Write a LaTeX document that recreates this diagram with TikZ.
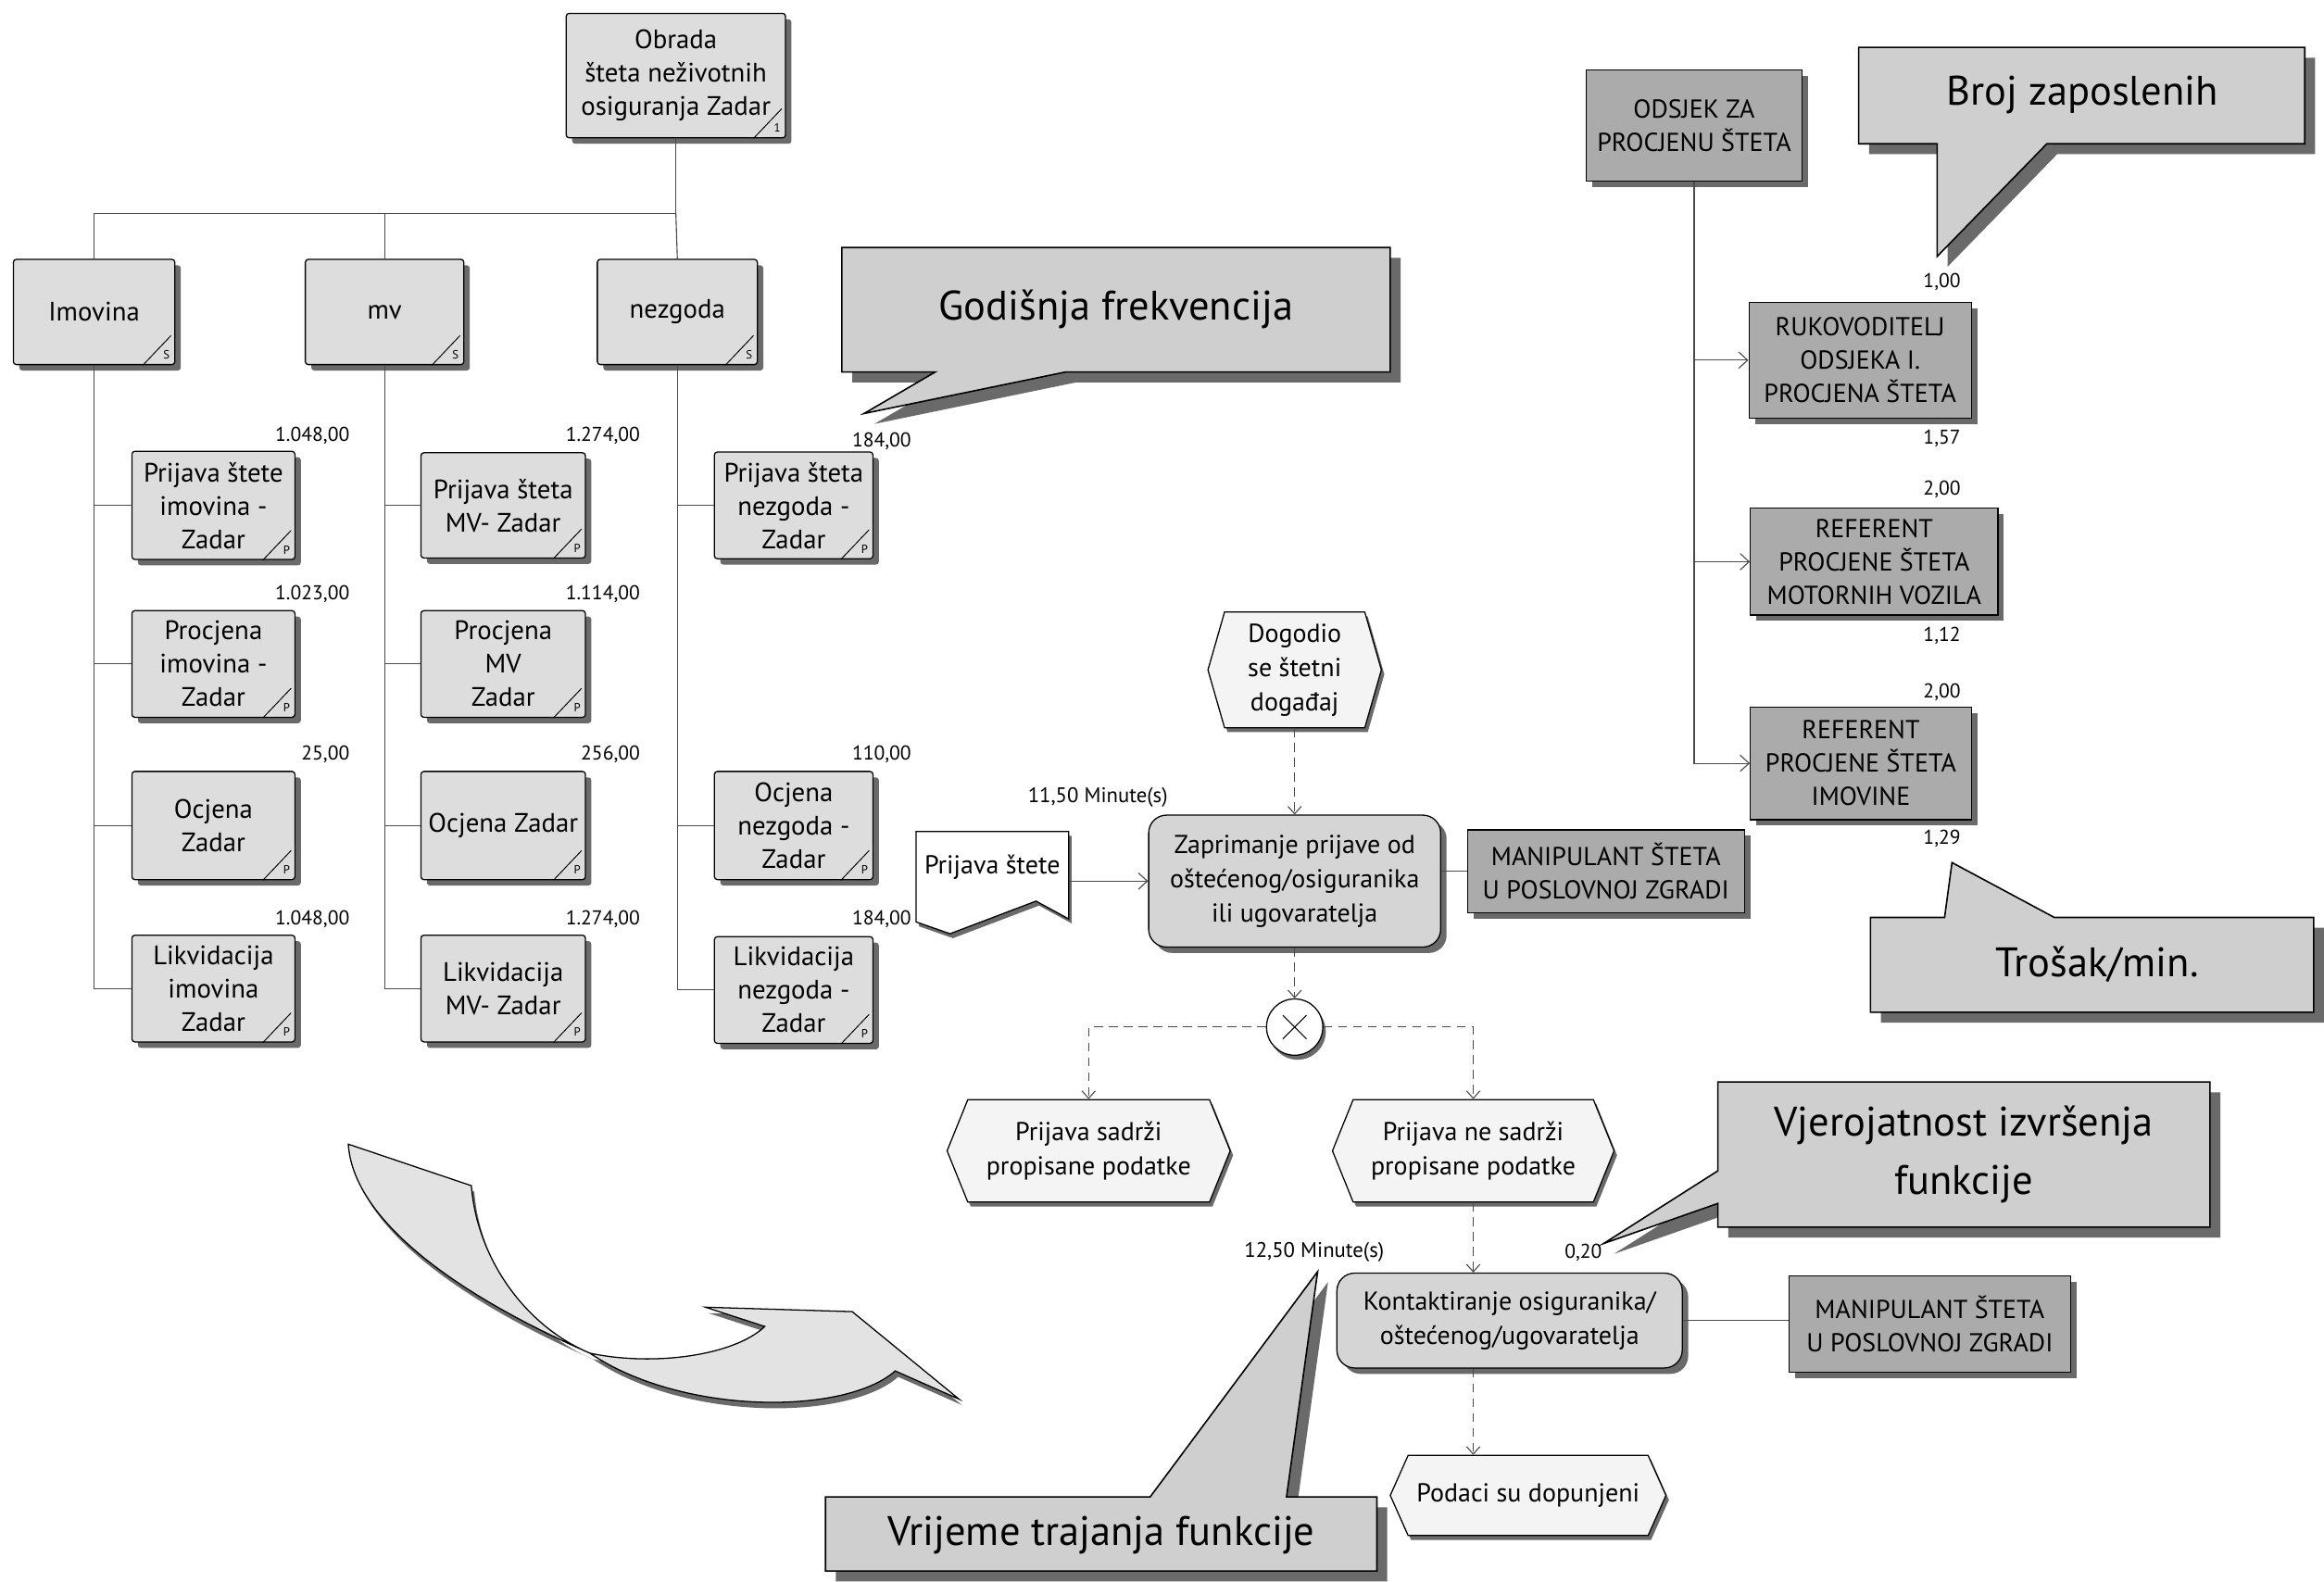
\documentclass[tikz,border=0pt]{standalone}
\usepackage{fontspec}
\setmainfont{PT Sans}
\usetikzlibrary{shapes.symbols,shadows,arrows.meta}
\definecolor{orgfill}{HTML}{DDDDDD}
\definecolor{rolefill}{HTML}{ABABAB}
\definecolor{callfill}{HTML}{CFCFCF}
\definecolor{fnfill}{HTML}{D5D5D5}
\definecolor{evfill}{HTML}{F4F4F4}
\definecolor{shadowc}{HTML}{6A6A6A}
\definecolor{linec}{HTML}{4A4A4A}
\newcommand\fontorg{\fontsize{18}{22.5}\selectfont}
\newcommand\fontnum{\fontsize{13.5}{15}\selectfont}
\newcommand\fontmin{\fontsize{14.2}{16}\selectfont}
\newcommand\fontcaps{\fontsize{17.5}{22.5}\selectfont}
\newcommand\fontcall{\fontsize{27.8}{39}\selectfont}
\newcommand\fontproc{\fontsize{17.5}{23}\selectfont}
\newcommand\fontmk{\fontsize{8}{9}\selectfont}
\newcommand\mkr[2]{%
  \draw[line width=0.6pt] ([xshift=-22pt]#1.south east) -- ([xshift=-3pt,yshift=20pt]#1.south east);
  \node[font=\fontmk,inner sep=0pt] (#1mk) at ([xshift=-6pt,yshift=7pt]#1.south east) {#2};}
\begin{document}
\begin{tikzpicture}[x=1pt,y=-1pt,
  shadowed/.style={drop shadow={shadow xshift=4pt,shadow yshift=-4pt,fill=shadowc,opacity=1}},
  orgbox/.style={draw,line width=0.8pt,fill=orgfill,rounded corners=2pt,align=center,font=\fontorg,inner sep=1pt,shadowed},
  rolebox/.style={draw,line width=0.8pt,fill=rolefill,align=center,font=\fontcaps,inner sep=1pt,shadowed},
  fnbox/.style={draw,line width=0.8pt,fill=fnfill,rounded corners=12pt,align=center,font=\fontproc,inner sep=1pt,shadowed},
  evhex/.style={signal,signal to=east and west,signal from=nowhere,draw,line width=0.8pt,fill=evfill,align=center,font=\fontproc,inner sep=1pt,drop shadow={shadow xshift=2pt,shadow yshift=-3pt,fill=shadowc,opacity=1}},
  numlbl/.style={font=\fontnum,inner sep=0pt,anchor=east},
  minlbl/.style={font=\fontmin,inner sep=0pt,anchor=east},
  orgline/.style={draw=linec,line width=0.7pt},
  flowline/.style={draw=linec,line width=0.7pt,dash pattern=on 6pt off 4pt,-{Straight Barb[length=5pt,width=9pt]}},
  solidarrow/.style={draw=linec,line width=0.7pt,-{Straight Barb[length=6pt,width=11pt]}},
  callout/.style={draw,line width=1pt,fill=callfill,drop shadow={shadow xshift=7pt,shadow yshift=-7pt,fill=shadowc,opacity=1}},
  calltext/.style={font=\fontcall,align=center,inner sep=0pt}]
\useasboundingbox (0,0) rectangle (1568,1067);
\fill[white] (0,0) rectangle (1568,1067);

% ---------- organisational tree ----------
\node[orgbox,minimum width=148pt,minimum height=84pt] (top) at (456,51) {Obrada\\šteta neživotnih\\osiguranja Zadar};
\node[orgbox,minimum width=109pt,minimum height=71pt] (imov) at (63.5,210.5) {Imovina};
\node[orgbox,minimum width=107pt,minimum height=71pt] (mv) at (259.5,210.5) {mv};
\node[orgbox,minimum width=108pt,minimum height=71pt] (nez) at (457,210.5) {nezgoda};

\node[orgbox,minimum width=110pt,minimum height=73pt] (c1a) at (144,341) {Prijava štete\\imovina -\\Zadar};
\node[orgbox,minimum width=110pt,minimum height=72pt] (c1b) at (144,448) {Procjena\\imovina -\\Zadar};
\node[orgbox,minimum width=110pt,minimum height=73pt] (c1c) at (144,557) {Ocjena\\Zadar};
\node[orgbox,minimum width=110pt,minimum height=72pt] (c1d) at (144,667) {Likvidacija\\imovina\\Zadar};
\node[orgbox,minimum width=111pt,minimum height=71pt] (c2a) at (339.5,341) {Prijava šteta\\MV- Zadar};
\node[orgbox,minimum width=111pt,minimum height=72pt] (c2b) at (339.5,448) {Procjena\\MV\\Zadar};
\node[orgbox,minimum width=111pt,minimum height=73pt] (c2c) at (339.5,557) {Ocjena Zadar};
\node[orgbox,minimum width=111pt,minimum height=72pt] (c2d) at (339.5,667) {Likvidacija\\MV- Zadar};
\node[orgbox,minimum width=107pt,minimum height=72pt] (c3a) at (535.5,341) {Prijava šteta\\nezgoda -\\Zadar};
\node[orgbox,minimum width=107pt,minimum height=73pt] (c3c) at (535.5,557) {Ocjena\\nezgoda -\\Zadar};
\node[orgbox,minimum width=107pt,minimum height=72pt] (c3d) at (535.5,668) {Likvidacija\\nezgoda -\\Zadar};

\mkr{top}{1}
\mkr{imov}{S}\mkr{mv}{S}\mkr{nez}{S}
\mkr{c1a}{P}\mkr{c1b}{P}\mkr{c1c}{P}\mkr{c1d}{P}
\mkr{c2a}{P}\mkr{c2b}{P}\mkr{c2c}{P}\mkr{c2d}{P}
\mkr{c3a}{P}\mkr{c3c}{P}\mkr{c3d}{P}

\coordinate (bus) at (456,144);
\draw[orgline] (top.south) -- (bus);
\draw[orgline] (bus) -| (imov.north);
\draw[orgline] (bus) -| (mv.north);
\draw[orgline] (bus) -- (nez.north);
\foreach \c in {c1a,c1b,c1c,c1d} \draw[orgline] (imov.south) |- (\c.west);
\foreach \c in {c2a,c2b,c2c,c2d} \draw[orgline] (mv.south) |- (\c.west);
\foreach \c in {c3a,c3c,c3d} \draw[orgline] (nez.south) |- (\c.west);

\node[numlbl] (n1a) at (236,294) {1.048,00};
\node[numlbl] (n1b) at (236,401) {1.023,00};
\node[numlbl] (n1c) at (236,509) {25,00};
\node[numlbl] (n1d) at (236,620) {1.048,00};
\node[numlbl] (n2a) at (432,294) {1.274,00};
\node[numlbl] (n2b) at (432,401) {1.114,00};
\node[numlbl] (n2c) at (432,509) {256,00};
\node[numlbl] (n2d) at (432,620) {1.274,00};
\node[numlbl] (n3a) at (615,298) {184,00};
\node[numlbl] (n3c) at (615,509) {110,00};
\node[numlbl] (n3d) at (615,620) {184,00};

% ---------- roles ----------
\node[rolebox,minimum width=146pt,minimum height=75pt] (ods) at (1143,84.5) {ODSJEK ZA\\PROCJENU ŠTETA};
\node[rolebox,minimum width=150pt,minimum height=78pt] (ruk) at (1255,243) {RUKOVODITELJ\\ODSJEKA I.\\PROCJENA ŠTETA};
\node[rolebox,minimum width=167pt,minimum height=72pt] (rmv) at (1264.5,379) {REFERENT\\PROCJENE ŠTETA\\MOTORNIH VOZILA};
\node[rolebox,minimum width=149pt,minimum height=76pt] (rim) at (1255.5,515) {REFERENT\\PROCJENE ŠTETA\\IMOVINE};
\draw[solidarrow] (ods.south) |- (ruk.west);
\draw[solidarrow] (ods.south) |- (rmv.west);
\draw[solidarrow] (ods.south) |- (rim.west);
\node[numlbl] (r1) at (1323,190) {1,00};
\node[numlbl] (r2) at (1323,296) {1,57};
\node[numlbl] (r3) at (1323,330) {2,00};
\node[numlbl] (r4) at (1323,429) {1,12};
\node[numlbl] (r5) at (1323,467) {2,00};
\node[numlbl] (r6) at (1323,566) {1,29};

% ---------- process ----------
\node[evhex,signal pointer angle=148,minimum width=117pt,minimum height=78pt] (dog) at (873.5,452) {Dogodio\\se štetni\\događaj};
\node[fnbox,minimum width=197pt,minimum height=89pt] (zapr) at (873.5,594.5) {Zaprimanje prijave od\\oštećenog/osiguranika\\ili ugovaratelja};
\draw[line width=0.8pt,fill=white,drop shadow={shadow xshift=2pt,shadow yshift=-3pt,fill=shadowc,opacity=1}]
  (618,561) -- (721,561) -- (721,620) -- (699,608) -- (641,630) -- (618,622) -- cycle;
\node[font=\fontproc,minimum width=103pt,inner sep=0pt] (doc) at (669.5,585) {Prijava štete};
\node[rolebox,minimum width=187pt,minimum height=56pt] (man1) at (1083.5,588) {MANIPULANT ŠTETA\\U POSLOVNOJ ZGRADI};
\node[circle,draw,line width=0.8pt,fill=white,minimum size=38pt,inner sep=0pt,drop shadow={shadow xshift=2pt,shadow yshift=-3pt,fill=shadowc,opacity=1}] (xor) at (873.5,693) {};
\draw[line width=0.7pt] ([xshift=-8pt,yshift=8pt]xor.center) -- ([xshift=8pt,yshift=-8pt]xor.center);
\draw[line width=0.7pt] ([xshift=-8pt,yshift=-8pt]xor.center) -- ([xshift=8pt,yshift=8pt]xor.center);
\node[evhex,signal pointer angle=136,minimum width=191pt,minimum height=69pt] (hexL) at (734.5,776.5) {Prijava sadrži\\propisane podatke};
\node[evhex,signal pointer angle=136,minimum width=190pt,minimum height=69pt] (hexR) at (994,776.5) {Prijava ne sadrži\\propisane podatke};
\node[fnbox,minimum width=233pt,minimum height=64pt] (kont) at (1018.5,891) {Kontaktiranje osiguranika/\\oštećenog/ugovaratelja};
\node[rolebox,minimum width=190pt,minimum height=65pt] (man2) at (1302,893.5) {MANIPULANT ŠTETA\\U POSLOVNOJ ZGRADI};
\node[evhex,signal pointer angle=132,minimum width=186pt,minimum height=54pt] (pod) at (1031,1009) {Podaci su dopunjeni};

\node[minlbl] (t1) at (788,538) {11,50 Minute(s)};
\node[minlbl] (t2) at (934,845) {12,50 Minute(s)};
\node[numlbl] (p1) at (1081,845) {0,20};

\draw[flowline] (dog.south) -- (zapr.north);
\draw[solidarrow] (doc.east |- zapr.west) -- (zapr.west);
\draw[orgline] (zapr.east |- man1.west) -- (man1.west);
\draw[flowline] (zapr.south) -- (xor.north);
\draw[flowline] (xor.west) -| (hexL.north);
\draw[flowline] (xor.east) -| (hexR.north);
\draw[flowline] (hexR.south) -- (hexR.south |- kont.north);
\draw[orgline] (kont.east) -- (kont.east -| man2.west);
\draw[flowline] (hexR.south |- kont.south) -- (hexR.south |- pod.north);

% ---------- curved arrow ----------
\path[draw,line width=0.8pt,fill=gray!22,drop shadow={shadow xshift=2pt,shadow yshift=-4pt,fill=shadowc,opacity=1}]
  (235,772) -- (318,800) .. controls (322,850) and (355,895) .. (398,913)
  .. controls (440,922) and (495,915) .. (516,895) -- (476,882) -- (575,885) -- (647,944) -- (604,925)
  .. controls (570,955) and (460,955) .. (398,913)
  .. controls (300,870) and (238,820) .. (235,772) -- cycle;

% ---------- callouts ----------
\path[callout] (568,167) -- (938,167) -- (938,251) -- (719,251) -- (583,279) -- (631,251) -- (568,251) -- cycle;
\node[calltext] (cgod) at (753,209) {Godišnja frekvencija};
\path[callout] (1254,32) -- (1555,32) -- (1555,97) -- (1381,97) -- (1307,173) -- (1307,97) -- (1254,97) -- cycle;
\node[calltext] (cbroj) at (1405,64) {Broj zaposlenih};
\path[callout] (1262,619) -- (1312,619) -- (1317,582) -- (1386,619) -- (1561,619) -- (1561,683) -- (1262,683) -- cycle;
\node[calltext] (ctros) at (1415,651) {Trošak/min.};
\path[callout] (1159,730) -- (1491,730) -- (1491,828) -- (1159,828) -- (1159,812) -- (1082,839) -- (1159,790) -- cycle;
\node[calltext] (cvjer) at (1325,779) {Vjerojatnost izvršenja\\funkcije};
\path[callout] (557,1010) -- (776,1010) -- (889,858) -- (868,1010) -- (929,1010) -- (929,1060) -- (557,1060) -- cycle;
\node[calltext] (cvrij) at (743,1036) {Vrijeme trajanja funkcije};
\end{tikzpicture}
\end{document}
